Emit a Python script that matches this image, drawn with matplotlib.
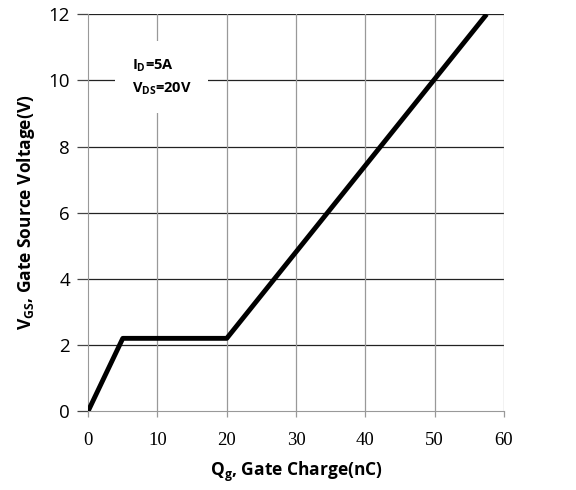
import matplotlib
matplotlib.use('Agg')
import matplotlib.pyplot as plt

# 数据
qg = [0, 5, 20, 57.5]
vgs = [0, 2.2, 2.2, 12]
x_ticks = [0, 10, 20, 30, 40, 50, 60]
y_ticks = [0, 2, 4, 6, 8, 10, 12]

plt.rcParams['font.family'] = ['Open Sans', 'DejaVu Sans']
plt.rcParams['mathtext.fontset'] = 'custom'
plt.rcParams['mathtext.rm'] = 'Open Sans'
plt.rcParams['mathtext.bf'] = 'Open Sans:bold'

fig = plt.figure(figsize=(5.76, 4.9), dpi=100)
ax = fig.add_axes([0.153, 0.161, 0.722, 0.810])

ax.plot(qg, vgs, color='black', linewidth=3.5, solid_capstyle='butt', zorder=3)

ax.set_xlim(0, 60)
ax.set_ylim(0, 12)
ax.set_xticks(x_ticks)
ax.set_yticks(y_ticks)

# 网格：横线深色，竖线灰色
for y in y_ticks[1:]:
    ax.axhline(y, color='#222222', linewidth=0.9, zorder=1)
for x in x_ticks[1:]:
    ax.axvline(x, color='#999999', linewidth=0.9, zorder=1)

for s in ['top', 'right']:
    ax.spines[s].set_visible(False)
ax.spines['left'].set_color('#999999')
ax.spines['bottom'].set_color('#999999')

ax.tick_params(axis='y', length=8, width=0.9, color='#444444', labelsize=13.5, pad=5)
ax.tick_params(axis='x', length=4, width=0.9, color='#999999', labelsize=13.5, pad=11)
for lab in ax.get_xticklabels():
    lab.set_family('Liberation Serif')

ax.set_xlabel(r'Q$_\mathregular{g}$, Gate Charge(nC)', fontsize=12.5, fontweight='bold', labelpad=8)
ax.set_ylabel(r'V$_\mathregular{GS}$, Gate Source Voltage(V)', fontsize=12.5, fontweight='bold', labelpad=8)

ax.text(6.3, 10.1, 'I$_\\mathregular{D}$=5A\nV$_\\mathregular{DS}$=20V', fontsize=10.5, fontweight='bold',
        va='center', ha='left', linespacing=1.5,
        bbox=dict(facecolor='white', edgecolor='none', pad=12), zorder=2)

plt.savefig('out.png', dpi=100)
